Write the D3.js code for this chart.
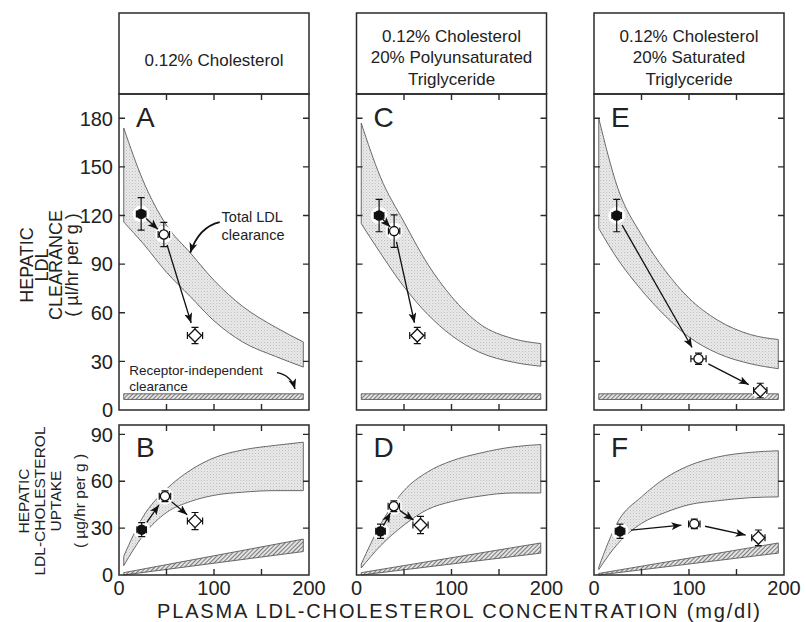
<!DOCTYPE html>
<html>
<head>
<meta charset="utf-8">
<script src="https://cdn.jsdelivr.net/npm/d3@7"></script>
<style>
  body { margin: 0; background: #fff; }
  svg { display: block; font-family: "Liberation Sans", Arial, sans-serif; }
</style>
</head>
<body>
<div id="chart"></div>
<script>
// panel headers (diet)
const headers = [
  ["0.12% Cholesterol"],
  ["0.12% Cholesterol", "20% Polyunsaturated", "Triglyceride"],
  ["0.12% Cholesterol", "20% Saturated", "Triglyceride"]
];
const topLetters = ["A", "C", "E"];
const bottomLetters = ["B", "D", "F"];

// plasma LDL-cholesterol (mg/dl) where the shaded bands were read
const bandX = [5, 25, 50, 75, 100, 130, 165, 194];

// total hepatic LDL clearance band (µl/hr per g)
const clearanceUpper = [
  [174, 142, 114, 97, 80, 64, 51, 42],
  [177, 144, 116, 90, 70, 53, 44, 41],
  [180, 137, 108, 86, 69, 55.5, 46.5, 43.5]
];
const clearanceLower = [
  [116, 103, 85, 70, 55, 42, 33, 26.5],
  [115, 97, 76, 59, 46, 35.5, 29.5, 27],
  [112, 93, 74, 58, 45, 35, 28.5, 25.5]
];

// hepatic LDL-cholesterol uptake band (µg/hr per g)
const uptakeUpper = [
  [12, 37, 55, 67, 75, 80, 83, 85],
  [7, 32, 54, 66, 73, 78, 82, 83.5],
  [5, 34, 50, 62, 70, 75.5, 78.5, 79.5]
];
const uptakeLower = [
  [6, 25, 40, 47, 51, 53, 54, 54],
  [4.5, 18.5, 32, 42, 47, 50.5, 52.5, 52.5],
  [3.5, 20, 33, 40, 45, 47.5, 49.5, 50]
];

// receptor-independent component
const recepX = [5, 194];
const recepClearLo = [6.5, 6.5];
const recepClearHi = [10, 10];
const recepUptakeLo = [[0, 15], [0, 14], [0, 14]];
const recepUptakeHi = [[1.5, 23], [1.5, 20.5], [1, 20.5]];

// measured values: [x, y, xErr, yErr], order = filled, circle, diamond
const markerTypes = ["filled", "circle", "diamond"];
const clearancePoints = [
  [[23.3, 121, 5, 10], [47.2, 108.3, 6, 7.5], [80, 46, 8, 5]],
  [[23.8, 120, 5, 10], [39.6, 110.4, 6, 10], [64, 46, 8, 5]],
  [[23.9, 120, 5, 10], [110, 31.6, 8, 3.5], [175, 12, 7, 4.5]]
];
const uptakePoints = [
  [[23.9, 29, 5, 4.5], [48.4, 50.4, 6, 3.5], [80, 34.5, 8, 5.5]],
  [[25.3, 28, 5, 4.5], [39.3, 44, 6, 3.5], [67.4, 32, 8, 5.5]],
  [[27.4, 28, 5, 4.5], [105.6, 32.7, 6, 3], [173, 23.8, 7, 5]]
];

const clearanceTicks = [0, 30, 60, 90, 120, 150, 180];
const uptakeTicks = [0, 30, 60, 90];
const xLabelTicks = [0, 100, 200];
const xInnerTicks = [50, 100, 150];

// layout
const W = 806, H = 622;
const panelLeft = [119, 356.5, 594], panelW = 190;
const headTop = 13, topY0 = 94, topY1 = 410, botY0 = 425, botY1 = 575;
const ink = "#2a2a2a";

const svg = d3.select("#chart").append("svg").attr("width", W).attr("height", H);
const defs = svg.append("defs");

const stip = defs.append("pattern").attr("id", "stipple")
  .attr("patternUnits", "userSpaceOnUse").attr("width", 3).attr("height", 3);
stip.append("rect").attr("width", 3).attr("height", 3).attr("fill", "#e9e9e9");
stip.append("rect").attr("width", 1).attr("height", 1).attr("fill", "#bdbdbd");
stip.append("rect").attr("x", 1.5).attr("y", 1.5).attr("width", 1).attr("height", 1).attr("fill", "#cfcfcf");

const hatch = defs.append("pattern").attr("id", "hatch")
  .attr("patternUnits", "userSpaceOnUse").attr("width", 3).attr("height", 3)
  .attr("patternTransform", "rotate(45)");
hatch.append("rect").attr("width", 3).attr("height", 3).attr("fill", "#e2e2e2");
hatch.append("line").attr("x1", 0.5).attr("y1", 0).attr("x2", 0.5).attr("y2", 3)
  .attr("stroke", "#7a7a7a").attr("stroke-width", 1);

defs.append("marker").attr("id", "arrow")
  .attr("viewBox", "0 0 10 8").attr("refX", 10).attr("refY", 4)
  .attr("markerWidth", 10).attr("markerHeight", 8)
  .attr("markerUnits", "userSpaceOnUse").attr("orient", "auto")
  .append("path").attr("d", "M0,0L10,4L0,8L2.5,4Z").attr("fill", "#111");

const yTop = d3.scaleLinear().domain([0, 195]).range([topY1, topY0]);
const yBot = d3.scaleLinear().domain([0, 96]).range([botY1, botY0]);

function drawBand(g, x, y, xs, lo, hi, fill) {
  const area = d3.area()
    .x((d, i) => x(xs[i]))
    .y0(d => y(d[0]))
    .y1(d => y(d[1]))
    .curve(d3.curveMonotoneX);
  g.append("path")
    .attr("d", area(xs.map((_, i) => [lo[i], hi[i]])))
    .attr("fill", fill)
    .attr("stroke", "#5a5a5a")
    .attr("stroke-width", 0.9);
}

function drawPoints(g, x, y, pts) {
  const pos = pts.map(p => [x(p[0]), y(p[1])]);
  // white halos
  pos.forEach(p => {
    g.append("circle").attr("cx", p[0]).attr("cy", p[1]).attr("r", 8.5).attr("fill", "#fff");
  });
  // arrows between successive points
  for (let i = 0; i < pos.length - 1; i++) {
    const a = pos[i], b = pos[i + 1];
    const dx = b[0] - a[0], dy = b[1] - a[1], len = Math.hypot(dx, dy);
    const off0 = Math.min(11, len * 0.22), off1 = Math.min(13, len * 0.26);
    g.append("line")
      .attr("x1", a[0] + dx / len * off0).attr("y1", a[1] + dy / len * off0)
      .attr("x2", b[0] - dx / len * off1).attr("y2", b[1] - dy / len * off1)
      .attr("stroke", "#111").attr("stroke-width", 1.3)
      .attr("marker-end", "url(#arrow)");
  }
  pts.forEach((p, i) => {
    const cx = pos[i][0], cy = pos[i][1];
    const hx = Math.abs(x(p[0] + p[2]) - cx), hy = Math.abs(y(p[1] + p[3]) - cy);
    const m = g.append("g").attr("transform", `translate(${cx},${cy})`);
    m.append("path")
      .attr("d", `M0,${-hy}V${hy}M${-hx},0H${hx}` +
        `M-3.5,${-hy}H3.5M-3.5,${hy}H3.5M${-hx},-3.5V3.5M${hx},-3.5V3.5`)
      .attr("stroke", "#111").attr("stroke-width", 1.2).attr("fill", "none");
    const t = markerTypes[i];
    if (t === "filled") {
      m.append("circle").attr("r", 5.2).attr("fill", "#111");
    } else if (t === "circle") {
      m.append("circle").attr("r", 4.6).attr("fill", "#fff").attr("stroke", "#111").attr("stroke-width", 1.3);
    } else {
      m.append("path").attr("d", "M0,-6.5L6.5,0L0,6.5L-6.5,0Z")
        .attr("fill", "#fff").attr("stroke", "#111").attr("stroke-width", 1.3);
    }
  });
}

function frame(g, x0, y0, y1) {
  g.append("rect").attr("x", x0).attr("y", y0).attr("width", panelW).attr("height", y1 - y0)
    .attr("fill", "none").attr("stroke", ink).attr("stroke-width", 1.5);
}

headers.forEach((lines, k) => {
  const x0 = panelLeft[k];
  const x = d3.scaleLinear().domain([0, 200]).range([x0, x0 + panelW]);
  const g = svg.append("g");

  // header box
  g.append("rect").attr("x", x0).attr("y", headTop).attr("width", panelW).attr("height", topY0 - headTop)
    .attr("fill", "#fff").attr("stroke", ink).attr("stroke-width", 1.5);
  const baseY = lines.length === 1 ? [66] : [41.5, 63, 84.5];
  lines.forEach((s, j) => {
    g.append("text").attr("x", x0 + panelW / 2).attr("y", baseY[j])
      .attr("text-anchor", "middle").attr("font-size", 17).attr("fill", "#222").text(s);
  });

  // ---- top: clearance
  const gt = g.append("g");
  const gtc = gt.append("g");
  drawBand(gtc, x, yTop, bandX, clearanceLower[k], clearanceUpper[k], "url(#stipple)");
  drawBand(gtc, x, yTop, recepX, recepClearLo, recepClearHi, "url(#hatch)");
  drawPoints(gtc, x, yTop, clearancePoints[k]);
  frame(gt, x0, topY0, topY1);
  clearanceTicks.filter(v => v > 0).forEach(v => {
    gt.append("path").attr("d", `M${x0},${yTop(v)}h6M${x0 + panelW},${yTop(v)}h-6`)
      .attr("stroke", ink).attr("stroke-width", 1.4);
  });
  xInnerTicks.forEach(v => {
    gt.append("path").attr("d", `M${x(v)},${topY0}v6M${x(v)},${topY1}v-6`)
      .attr("stroke", ink).attr("stroke-width", 1.4);
  });
  gt.append("text").attr("x", x0 + 17).attr("y", 127).attr("font-size", 28).attr("fill", "#222")
    .text(topLetters[k]);

  // ---- bottom: uptake
  const gb = g.append("g");
  drawBand(gb, x, yBot, bandX, uptakeLower[k], uptakeUpper[k], "url(#stipple)");
  drawBand(gb, x, yBot, recepX, recepUptakeLo[k], recepUptakeHi[k], "url(#hatch)");
  drawPoints(gb, x, yBot, uptakePoints[k]);
  frame(gb, x0, botY0, botY1);
  uptakeTicks.filter(v => v > 0).forEach(v => {
    gb.append("path").attr("d", `M${x0},${yBot(v)}h6M${x0 + panelW},${yBot(v)}h-6`)
      .attr("stroke", ink).attr("stroke-width", 1.4);
  });
  xInnerTicks.forEach(v => {
    gb.append("path").attr("d", `M${x(v)},${botY0}v6M${x(v)},${botY1}v-6`)
      .attr("stroke", ink).attr("stroke-width", 1.4);
  });
  gb.append("text").attr("x", x0 + 17).attr("y", 457).attr("font-size", 28).attr("fill", "#222")
    .text(bottomLetters[k]);

  xLabelTicks.forEach(v => {
    g.append("text").attr("x", x(v)).attr("y", 595).attr("text-anchor", "middle")
      .attr("font-size", 20).attr("fill", "#222").text(v);
  });

  // annotations, panel A only
  if (k === 0) {
    const ga = g.append("g").attr("fill", "#222").attr("font-size", 14.5);
    ga.append("text").attr("x", x(108)).attr("y", yTop(116)).text("Total LDL");
    ga.append("text").attr("x", x(108)).attr("y", yTop(105)).text("clearance");
    ga.append("path")
      .attr("d", `M${x(106)},${yTop(116)}Q${x(84)},${yTop(113)} ${x(75)},${yTop(97)}`)
      .attr("fill", "none").attr("stroke", "#111").attr("stroke-width", 1.8)
      .attr("marker-end", "url(#arrow)");
    ga.append("text").attr("x", x(10.8)).attr("y", yTop(21.5)).attr("font-size", 13.5).text("Receptor-independent");
    ga.append("text").attr("x", x(10.8)).attr("y", yTop(11.6)).attr("font-size", 13.5).text("clearance");
    ga.append("path")
      .attr("d", `M${x(166.3)},${yTop(23.1)}Q${x(181)},${yTop(21.6)} ${x(185.3)},${yTop(13)}`)
      .attr("fill", "none").attr("stroke", "#111").attr("stroke-width", 1.4)
      .attr("marker-end", "url(#arrow)");
  }
});

// left axis tick labels
clearanceTicks.forEach(v => {
  svg.append("text").attr("x", 113).attr("y", yTop(v)).attr("dy", "0.36em")
    .attr("text-anchor", "end").attr("font-size", 20).attr("fill", "#222").text(v);
});
uptakeTicks.forEach(v => {
  svg.append("text").attr("x", 113).attr("y", yBot(v)).attr("dy", "0.36em")
    .attr("text-anchor", "end").attr("font-size", 20).attr("fill", "#222").text(v);
});

// axis titles
const topTitle = ["HEPATIC", "LDL", "CLEARANCE", "( \u00b5l/hr per g )"];
const topTitleX = [27, 41.5, 56, 72];
topTitle.forEach((s, i) => {
  svg.append("text").attr("transform", `translate(${topTitleX[i]},265) rotate(-90)`)
    .attr("text-anchor", "middle").attr("dy", "0.36em").attr("font-size", 18)
    .attr("fill", "#222").text(s);
});
const botTitle = ["HEPATIC", "LDL-CHOLESTEROL", "UPTAKE", "( \u00b5g/hr per g )"];
const botTitleX = [23, 39.5, 55.5, 79];
botTitle.forEach((s, i) => {
  svg.append("text").attr("transform", `translate(${botTitleX[i]},501) rotate(-90)`)
    .attr("text-anchor", "middle").attr("dy", "0.36em").attr("font-size", 15.5)
    .attr("fill", "#222").text(s);
});

svg.append("text").attr("x", 157).attr("y", 618)
  .attr("textLength", 603).attr("lengthAdjust", "spacing")
  .attr("font-size", 20).attr("fill", "#222")
  .text("PLASMA LDL-CHOLESTEROL CONCENTRATION (mg/dl)");
</script>
</body>
</html>
